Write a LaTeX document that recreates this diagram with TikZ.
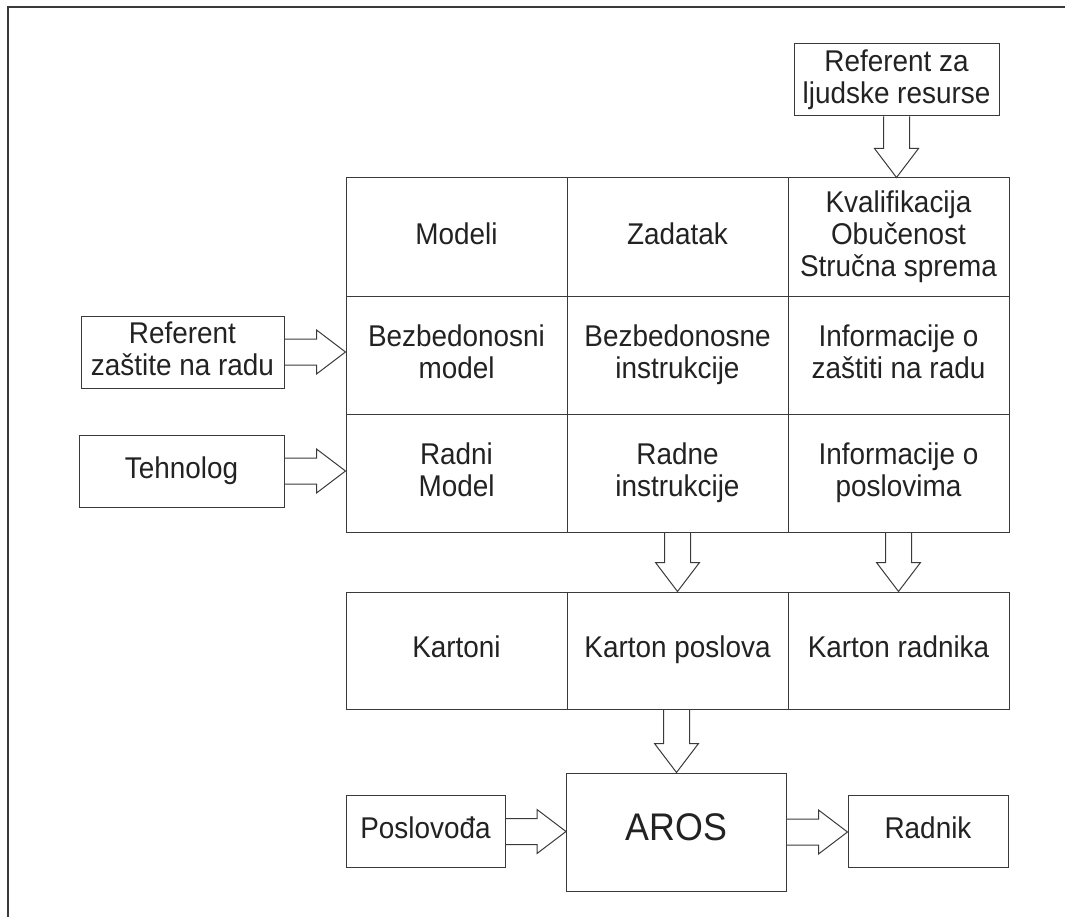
\documentclass[tikz,border=0pt]{standalone}
\usepackage{fontspec}
\setmainfont{Liberation Sans}[FakeStretch=0.93]
\usetikzlibrary{calc}
\definecolor{ink}{HTML}{3A3A3A}
\definecolor{txt}{HTML}{222222}
% invisible strut that puts the cap height of a line at the node centre
\newcommand\capstrut{\rule[-0.25em]{0pt}{0.95em}}
\tikzset{
  box/.style={draw=ink, line width=1pt, inner sep=0pt, align=center, text=txt,
              font=\fontsize{30}{32}\selectfont,
              execute at begin node=\capstrut, execute at end node=\capstrut},
  cell/.style={box, minimum width=221pt, minimum height=118pt},
  actor/.style={box, minimum height=72pt},
  fat/.style={draw=ink, line width=1pt, line join=miter},
  frame/.style={draw=ink, line width=2pt},
}
% hollow block arrow pointing down: from #1 (edge of source) to tip #2
\newcommand\fatdown[2]{%
  \draw[fat] ($(#1 -| #2)+(-13,0)$) -- ($(#2)+(-13,-29)$) -- ($(#2)+(-22,-29)$)
    -- (#2) -- ($(#2)+(22,-29)$) -- ($(#2)+(13,-29)$) -- ($(#1 -| #2)+(13,0)$);}
% hollow block arrow pointing right: from #1 (edge of source) to tip #2
\newcommand\fatright[2]{%
  \draw[fat] ($(#1 |- #2)+(0,-13)$) -- ($(#2)+(-29,-13)$) -- ($(#2)+(-29,-22)$)
    -- (#2) -- ($(#2)+(-29,22)$) -- ($(#2)+(-29,13)$) -- ($(#1 |- #2)+(0,13)$);}
\begin{document}
\begin{tikzpicture}[x=1pt,y=-1pt]
\useasboundingbox (0,0) rectangle (1065,917);
\draw[frame] (8,917) -- (8,7) -- (1065,7);

% sources
\node[actor, minimum width=205pt] (hr)  at (896.5,80)  {Referent za\\ljudske resurse};
\node[actor, minimum width=203pt] (ref) at (182.5,352) {Referent\\zaštite na radu};
\node[actor, minimum width=205pt] (teh) at (181.5,471) {Tehnolog};

% main matrix
\node[cell] (c11) at (456.5,237) {Modeli};
\node[cell] (c12) at (677.5,237) {Zadatak};
\node[cell] (c13) at (898.5,237) {Kvalifikacija\\Obučenost\\Stručna sprema};
\node[cell] (c21) at (456.5,355) {Bezbedonosni\\model};
\node[cell] (c22) at (677.5,355) {Bezbedonosne\\instrukcije};
\node[cell] (c23) at (898.5,355) {Informacije o\\zaštiti na radu};
\node[cell] (c31) at (456.5,473) {Radni\\Model};
\node[cell] (c32) at (677.5,473) {Radne\\instrukcije};
\node[cell] (c33) at (898.5,473) {Informacije o\\poslovima};

% cards
\node[cell, minimum height=117pt] (k1) at (456.5,650.5) {Kartoni};
\node[cell, minimum height=117pt] (k2) at (677.5,650.5) {Karton poslova};
\node[cell, minimum height=117pt] (k3) at (898.5,650.5) {Karton radnika};

% bottom row
\node[box, minimum width=220pt, minimum height=118pt, font=\fontsize{38.5}{42}\selectfont]
  (aros) at (676.5,832) {AROS};
\node[actor, minimum width=159pt] (pos) at (425.5,831.5) {Poslovođa};
\node[actor, minimum width=160pt] (rad) at (928,831.5) {Radnik};

% connectors
\coordinate (hrTip)  at (hr.south |- c13.north);
\coordinate (refTip) at (ref.east -| c21.west);
\coordinate (tehTip) at (teh.east -| c31.west);
\coordinate (radTip) at (aros.east -| rad.west);
\coordinate (posTip) at (pos.east -| aros.west);

\fatdown{hr.south}{hrTip}
\fatright{ref.east}{refTip}
\fatright{teh.east}{tehTip}
\fatdown{c32.south}{k2.north}
\fatdown{c33.south}{k3.north}
\fatdown{k2.south}{aros.north}
\fatright{pos.east}{posTip}
\fatright{aros.east}{radTip}
\end{tikzpicture}
\end{document}
